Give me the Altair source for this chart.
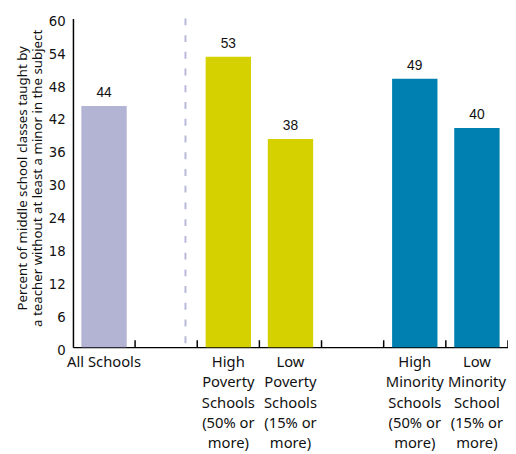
import altair as alt
import pandas as pd

# Category slots along the x axis (blank slots are the empty gaps)
categories = [
    "All Schools",
    " ",
    "High\nPoverty\nSchools\n(50% or\nmore)",
    "Low\nPoverty\nSchools\n(15% or\nmore)",
    "  ",
    "High\nMinority\nSchools\n(50% or\nmore)",
    "Low\nMinority\nSchool\n(15% or\nmore)",
]
bar_categories = [categories[0], categories[2], categories[3], categories[5], categories[6]]
values = [44, 53, 38, 49, 40]
groups = ["All", "Poverty", "Poverty", "Minority", "Minority"]
group_names = ["All", "Poverty", "Minority"]
group_colors = ["#b3b3d4", "#d5d100", "#0080b0"]
y_ticks = [0, 6, 12, 18, 24, 30, 36, 42, 48, 54, 60]
divider_slot = [" "]

title_text = "Teachers Lacking at Least a College Minor"
y_title = ["Percent of middle school classes taught by",
           "a teacher without at least a minor in the subject"]

bars_df = pd.DataFrame({"cat": bar_categories, "value": values, "group": groups})
div_df = pd.DataFrame({"cat": divider_slot})
tick_df = pd.DataFrame({"cat": categories})

PLOT_H = 334
NARROW = "Liberation Sans Narrow, Arial Narrow, DejaVu Sans Condensed, Roboto, sans-serif"

x_scale = alt.Scale(domain=categories, paddingInner=0.27, paddingOuter=0.135)
y_scale = alt.Scale(domain=[0, 60], nice=False)

label_axis = alt.Axis(
    title=None, orient="bottom", ticks=False, tickSize=0, labelAngle=0,
    labelExpr="split(datum.label, '\\n')",
    labelFont="Noto Sans", labelFontSize=15, labelColor="#111111",
    labelLineHeight=20.5, labelBaseline="alphabetic", labelPadding=20,
    labelOverlap=False, labelFlush=False, labelAlign="center", labelLimit=0,
    domainColor="black", domainWidth=1.5, grid=False,
)

y_axis = alt.Axis(
    values=y_ticks, ticks=False, grid=False, domainColor="black", domainWidth=1.5,
    labelFont=NARROW, labelFontSize=15, labelPadding=8, labelOverlap=False,
    labelColor="#111111", labelOffset=2,
    title=y_title, titleFont="Noto Sans", titleFontSize=13.5,
    titleFontWeight="normal", titleColor="#111111", titleLineHeight=15,
    titleAngle=270, titleBaseline="alphabetic", titleAlign="center",
    titleX=-47, titleY=162,
)

bars = alt.Chart(bars_df).mark_bar().encode(
    x=alt.X("cat:N", scale=x_scale, axis=label_axis),
    y=alt.Y("value:Q", scale=y_scale, axis=y_axis),
    color=alt.Color("group:N", scale=alt.Scale(domain=group_names, range=group_colors), legend=None),
)

labels = alt.Chart(bars_df).mark_text(
    baseline="bottom", dy=-6, font="Liberation Sans", fontSize=14, color="#111111"
).encode(
    x=alt.X("cat:N", scale=x_scale, axis=label_axis),
    y=alt.Y("value:Q", scale=y_scale, axis=y_axis),
    text=alt.Text("value:Q"),
)

# small upward ticks at slot boundaries on the x axis
ticks = alt.Chart(tick_df).mark_rule(
    color="black", strokeWidth=1.5, xOffset=8.5
).encode(
    x=alt.X("cat:N", scale=x_scale, axis=label_axis, bandPosition=1),
    y=alt.YDatum(0, scale=y_scale, axis=y_axis),
    y2=alt.value(PLOT_H - 7),
)

divider = alt.Chart(div_df).mark_rule(
    color="#b8b8d8", strokeWidth=2, strokeDash=[7, 10]
).encode(
    x=alt.X("cat:N", scale=x_scale, axis=label_axis, bandPosition=0.925),
    y=alt.YDatum(60, scale=y_scale, axis=y_axis),
    y2=alt.datum(0),
)

chart = alt.layer(bars, labels, ticks, divider).properties(
    width=442,
    height=PLOT_H,
    autosize=alt.AutoSizeParams(type="none"),
    padding={"left": 66, "top": 7, "right": 0, "bottom": 105},
    title=alt.TitleParams(
        text=title_text, font="Liberation Sans", fontSize=20, fontWeight="bold",
        color="#1f6db5", anchor="middle", offset=7, baseline="alphabetic", dx=-18,
    ),
).configure_view(strokeWidth=0)

chart.save("out.html", embed_options={"renderer": "svg", "actions": False})
